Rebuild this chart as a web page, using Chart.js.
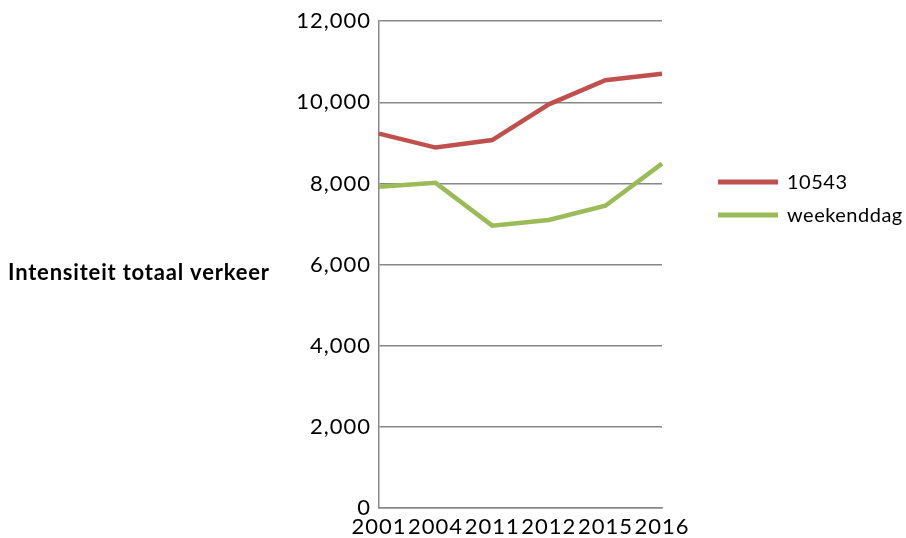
<!DOCTYPE html>
<html>
<head>
<meta charset="utf-8">
<script src="https://cdn.jsdelivr.net/npm/chart.js@4/dist/chart.umd.min.js"></script>
<style>
html,body{margin:0;padding:0;background:#fff;}
#wrap{width:906px;height:538px;position:relative;}
</style>
</head>
<body>
<div id="wrap"><canvas id="c" width="906" height="538"></canvas></div>
<script>
const categories = ['2001','2004','2011','2012','2015','2016'];
const series10543 = [9230, 8885, 9070, 9950, 10545, 10705];
const seriesWeekenddag = [7920, 8015, 6960, 7100, 7450, 8490];
const yTicks = [0, 2000, 4000, 6000, 8000, 10000, 12000];
const seriesNames = ['10543', 'weekenddag'];
const yTitle = 'Intensiteit totaal verkeer';

const colors = ['#C0504D', '#9BBB59'];
const FONT = 'Lato, "Open Sans", sans-serif';

const spacing = {
  id: 'spacing',
  beforeDraw(chart) {
    chart.ctx.letterSpacing = '1px';
  }
};

const extras = {
  id: 'extras',
  afterDraw(chart) {
    const ctx = chart.ctx;
    ctx.save();
    // axis title
    ctx.fillStyle = '#000';
    ctx.letterSpacing = '0.8px';
    ctx.font = 'bold 22px ' + FONT;
    ctx.textAlign = 'left';
    ctx.textBaseline = 'middle';
    ctx.fillText(yTitle, 8, 273);
    // legend
    const items = [[seriesNames[0], colors[0], 182], [seriesNames[1], colors[1], 215]];
    ctx.font = '20px ' + FONT;
    ctx.letterSpacing = '0.5px';
    items.forEach(([name, col, y]) => {
      ctx.strokeStyle = col;
      ctx.lineWidth = 5;
      ctx.beginPath();
      ctx.moveTo(718, y);
      ctx.lineTo(778, y);
      ctx.stroke();
      ctx.fillStyle = '#000';
      ctx.fillText(name, 787, y + 1);
    });
    ctx.restore();
  }
};

new Chart(document.getElementById('c'), {
  type: 'line',
  data: {
    labels: categories,
    datasets: [
      {label: seriesNames[0], data: series10543, borderColor: colors[0], backgroundColor: colors[0], borderWidth: 4.5, pointRadius: 0, tension: 0, fill: false},
      {label: seriesNames[1], data: seriesWeekenddag, borderColor: colors[1], backgroundColor: colors[1], borderWidth: 4.5, pointRadius: 0, tension: 0, fill: false}
    ]
  },
  options: {
    responsive: false,
    animation: false,
    events: [],
    layout: {padding: {left: 0, right: 244, top: 20, bottom: 0}},
    plugins: {legend: {display: false}, tooltip: {enabled: false}, title: {display: false}},
    scales: {
      x: {
        offset: false,
        grid: {display: false, drawTicks: false},
        border: {display: true, color: '#888', width: 1.5},
        ticks: {autoSkip: false, maxRotation: 0, minRotation: 0, padding: 6, color: '#000', font: {family: FONT, size: 22}},
        afterFit(scale) { scale.height = 30; }
      },
      y: {
        min: 0, max: 12000,
        afterBuildTicks(scale) { scale.ticks = yTicks.map(v => ({value: v})); },
        grid: {color: '#888', lineWidth: 1.5, drawTicks: false},
        border: {display: true, color: '#888', width: 1.5},
        ticks: {padding: 8, color: '#000', font: {family: FONT, size: 22},
          callback: v => v.toLocaleString('en-US')},
        afterFit(scale) { scale.width = 379; }
      }
    }
  },
  plugins: [spacing, extras]
});
</script>
</body>
</html>
